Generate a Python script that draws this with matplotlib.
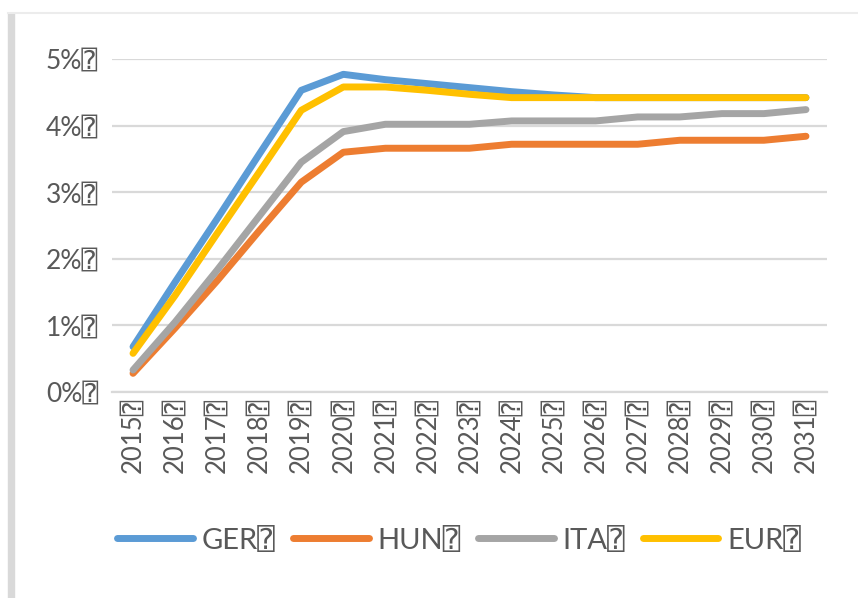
import numpy as np
import matplotlib.pyplot as plt
from matplotlib.lines import Line2D
from matplotlib.patches import Rectangle

# Datos (tasa en %)
anios = ['2015', '2016', '2017', '2018', '2019', '2020', '2021', '2022', '2023',
         '2024', '2025', '2026', '2027', '2028', '2029', '2030', '2031']
ger = [0.68, 1.65, 2.60, 3.57, 4.53, 4.77, 4.69, 4.63, 4.57, 4.51, 4.46, 4.42,
       4.42, 4.42, 4.42, 4.42, 4.42]
hun = [0.28, 0.96, 1.67, 2.42, 3.15, 3.60, 3.66, 3.66, 3.66, 3.72, 3.72, 3.72,
       3.72, 3.78, 3.78, 3.78, 3.84]
ita = [0.33, 1.05, 1.83, 2.64, 3.45, 3.91, 4.02, 4.02, 4.02, 4.07, 4.07, 4.07,
       4.13, 4.13, 4.18, 4.18, 4.24]
eur = [0.58, 1.45, 2.38, 3.30, 4.23, 4.58, 4.58, 4.53, 4.47, 4.42, 4.42, 4.42,
       4.42, 4.42, 4.42, 4.42, 4.42]
series = [('GER', ger, '#5b9bd5'), ('HUN', hun, '#ed7d31'),
          ('ITA', ita, '#a5a5a5'), ('EUR', eur, '#ffc000')]
y_ticks = [0, 1, 2, 3, 4, 5]

caja = '\u2370'
fuentes = ['Lato', 'DejaVu Sans', 'DejaVu Sans Mono']
gris_texto = '#595959'

fig = plt.figure(figsize=(8.58, 5.98), dpi=100)
ax = fig.add_axes([112 / 858, 206 / 598, 715 / 858, 333 / 598])

x = np.arange(len(anios))
handles = []
for nombre, vals, color in series:
    ax.plot(x, vals, color=color, linewidth=5, solid_capstyle='round',
            solid_joinstyle='round')
    handles.append(Line2D([0], [0], color=color, linewidth=5,
                          solid_capstyle='round', label=nombre + caja))

ax.set_xlim(-0.5, len(anios) - 0.5)
ax.set_ylim(0, 5)
ax.set_yticks(y_ticks)
ax.set_yticklabels([f'{v}%{caja}' for v in y_ticks], family=fuentes,
                   fontsize=19, color=gris_texto)
ax.set_xticks(x)
ax.set_xticklabels([a + caja for a in anios], rotation=90, family=fuentes,
                   fontsize=18.5, color=gris_texto)
ax.tick_params(axis='y', length=0, pad=10)
ax.tick_params(axis='x', length=0, pad=4)
ax.grid(axis='y', color='#d9d9d9', linewidth=1.6)
ax.set_axisbelow(True)
for lado in ['top', 'right', 'left']:
    ax.spines[lado].set_visible(False)
ax.spines['bottom'].set_color('#d9d9d9')
ax.spines['bottom'].set_linewidth(1.6)

fig.legend(handles=handles, loc='center', bbox_to_anchor=(459 / 858, 58 / 598),
           ncol=4, frameon=False, handlelength=2.6, handletextpad=0.3,
           columnspacing=0.6, prop={'family': fuentes, 'size': 21},
           labelcolor=gris_texto)

# Borde del área del gráfico (recortado)
fig.patches.append(Rectangle((8 / 858, 0), 6 / 858, 585 / 598,
                             transform=fig.transFigure, color='#d9d9d9'))
fig.lines.append(Line2D([8 / 858, 1], [585 / 598, 585 / 598],
                        transform=fig.transFigure, color='#ececec', linewidth=1.5))

fig.savefig('out.png', dpi=100)
